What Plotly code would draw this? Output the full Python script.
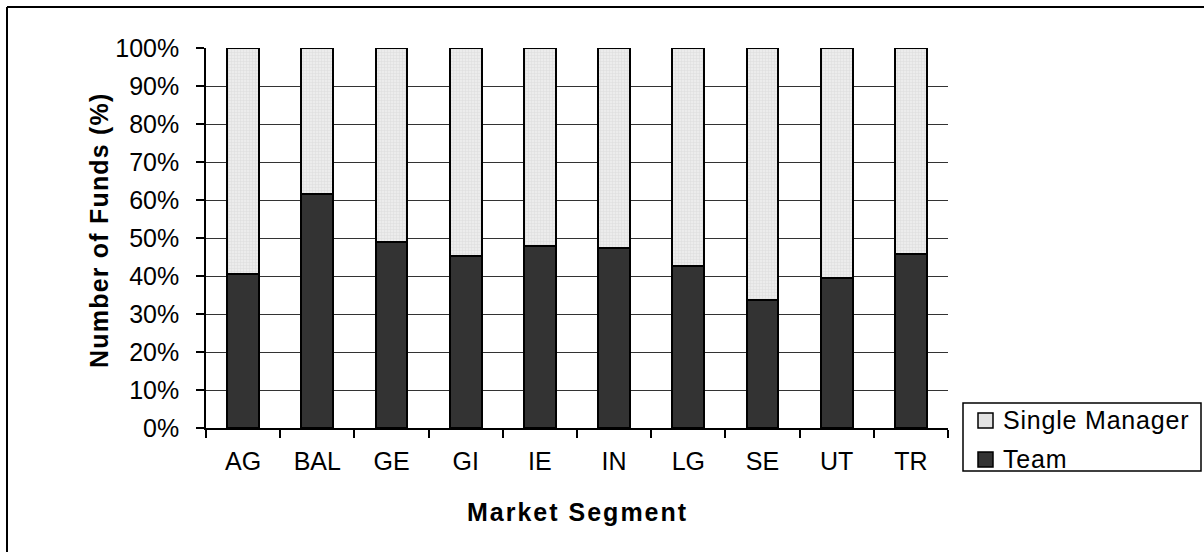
import plotly.graph_objects as go

categories = ["AG", "BAL", "GE", "GI", "IE", "IN", "LG", "SE", "UT", "TR"]
team = [40.5, 61.6, 49.0, 45.3, 47.9, 47.3, 42.6, 33.7, 39.6, 45.9]
single_manager = [round(100 - t, 1) for t in team]
series_names = ["Single Manager", "Team"]

FONT = "Liberation Sans, Arial, sans-serif"
TEAM_COLOR = "#333333"
SM_COLOR = "#e6e6e6"

# plot area in pixels
L, R, T, B = 206, 948, 48, 428
W, H = 1204, 552

def px_x(p):
    return (p - L) / (R - L)

def px_y(p):
    return (B - p) / (B - T)

fig = go.Figure()
fig.add_trace(go.Bar(
    x=categories, y=team, name="Team",
    marker=dict(color=TEAM_COLOR, line=dict(color="#000000", width=2)),
    showlegend=False,
))
fig.add_trace(go.Bar(
    x=categories, y=single_manager, name="Single Manager",
    marker=dict(color=SM_COLOR, line=dict(color="#000000", width=2),
                pattern=dict(shape="+", size=3, solidity=0.25,
                             fgcolor="#c4c4c4", bgcolor="#ececec")),
    showlegend=False,
))

shapes = [
    # outer chart border (top and left)
    dict(type="line", xref="paper", yref="paper",
         x0=px_x(7), x1=px_x(1210), y0=px_y(7), y1=px_y(7),
         line=dict(color="#000000", width=2)),
    dict(type="line", xref="paper", yref="paper",
         x0=px_x(7), x1=px_x(7), y0=px_y(7), y1=px_y(560),
         line=dict(color="#000000", width=2)),
    # legend box
    dict(type="rect", xref="paper", yref="paper",
         x0=px_x(963), x1=px_x(1201), y0=px_y(403), y1=px_y(471),
         line=dict(color="#000000", width=1.5), fillcolor="white"),
    # legend swatches
    dict(type="rect", xref="paper", yref="paper",
         x0=px_x(978), x1=px_x(993), y0=px_y(413), y1=px_y(428),
         line=dict(color="#000000", width=1.5), fillcolor="#e2e2e2"),
    dict(type="rect", xref="paper", yref="paper",
         x0=px_x(978), x1=px_x(993), y0=px_y(452), y1=px_y(467),
         line=dict(color="#000000", width=1.5), fillcolor=TEAM_COLOR),
]

annotations = [
    dict(text="<b><span style='letter-spacing:1.2px'>Number of Funds (%)</span></b>",
         xref="paper", yref="paper",
         x=px_x(99), y=px_y(230), textangle=-90, showarrow=False,
         xanchor="center", yanchor="middle",
         font=dict(family=FONT, size=25, color="#000000")),
    dict(text="<b><span style='letter-spacing:2px'>Market Segment</span></b>",
         xref="paper", yref="paper",
         x=0.5, y=px_y(512), showarrow=False,
         xanchor="center", yanchor="middle",
         font=dict(family=FONT, size=25, color="#000000")),
    dict(text=f"<span style='letter-spacing:0.8px'>{series_names[0]}</span>",
         xref="paper", yref="paper",
         x=px_x(1001), y=px_y(420), showarrow=False,
         xanchor="left", yanchor="middle",
         font=dict(family=FONT, size=25, color="#000000")),
    dict(text=f"<span style='letter-spacing:0.8px'>{series_names[1]}</span>",
         xref="paper", yref="paper",
         x=px_x(1001), y=px_y(459), showarrow=False,
         xanchor="left", yanchor="middle",
         font=dict(family=FONT, size=25, color="#000000")),
]

fig.update_layout(
    width=W, height=H,
    barmode="stack", bargap=0.57,
    plot_bgcolor="white", paper_bgcolor="white",
    margin=dict(l=L, r=W - R, t=T, b=H - B, pad=0),
    font=dict(family=FONT, size=25, color="#000000"),
    showlegend=False,
    xaxis=dict(
        type="category", tickson="boundaries",
        showline=True, linecolor="#000000", linewidth=1.5,
        ticks="outside", ticklen=8, tickcolor="#000000", tickwidth=1.5,
        showgrid=False, zeroline=False,
        tickfont=dict(family=FONT, size=25, color="#000000"),
        ticklabelstandoff=10,
    ),
    yaxis=dict(
        range=[0, 100], dtick=10, ticksuffix="%",
        showline=True, linecolor="#000000", linewidth=1.5,
        ticks="outside", ticklen=8, tickcolor="#000000", tickwidth=1.5,
        showgrid=True, gridcolor="#333333", gridwidth=1,
        zeroline=False,
        tickfont=dict(family=FONT, size=25, color="#000000"),
        ticklabelstandoff=12,
    ),
    shapes=shapes,
    annotations=annotations,
)

fig.write_html(
    "out.html",
    config={"displayModeBar": False},
    post_script="document.body.style.margin='0';document.body.style.overflow='hidden';",
)
